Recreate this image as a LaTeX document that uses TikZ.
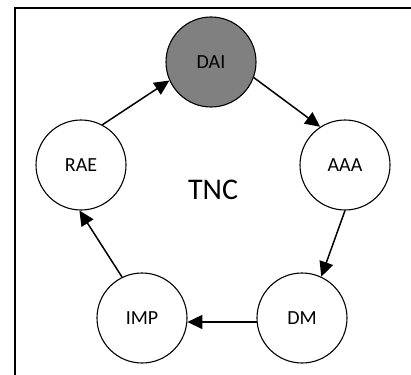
\documentclass[tikz,border=0pt]{standalone}
\usepackage{fontspec}
\setmainfont{Carlito}
\usepackage{tikz}
\usetikzlibrary{arrows.meta}
\definecolor{stagegray}{HTML}{808080}
\tikzset{
    stage/.style={draw=black, circle, line width=1.1pt, minimum size=90pt, inner sep=0pt,
                  fill=white, font=\fontsize{20}{24}\selectfont},
    activestage/.style={stage, fill=stagegray},
    arr/.style={-{Triangle[length=15pt, width=14pt]}, line width=1.5pt, black}
}

\begin{document}
\begin{tikzpicture}[x=1pt, y=-1pt]
        \useasboundingbox (0,0) rectangle (411,374);
        \clip (0,0) rectangle (411,374);
        % outer frame, runs off the right and bottom edges
        \draw[line width=1.3pt] (15,8) rectangle (430,390);
        \node[activestage] (dai) at (211,62) {DAI};
        \node[stage] (aaa) at (345,165) {AAA};
        \node[stage] (dm) at (302,318) {DM};
        \node[stage] (imp) at (142,318) {IMP};
        \node[stage] (rae) at (81,165) {RAE};
        \node[font=\fontsize{30}{34}\selectfont] (tnc) at (213,190) {TNC};
        \draw[arr] (dai.-20) -- (aaa.123);
        \draw[arr] (aaa.270) -- (dm.65);
        \draw[arr] (dm.185) -- (imp.-5);
        \draw[arr] (imp.116) -- (rae.268);
        \draw[arr] (rae.62) -- (dai.204);
    \end{tikzpicture}
\end{document}
